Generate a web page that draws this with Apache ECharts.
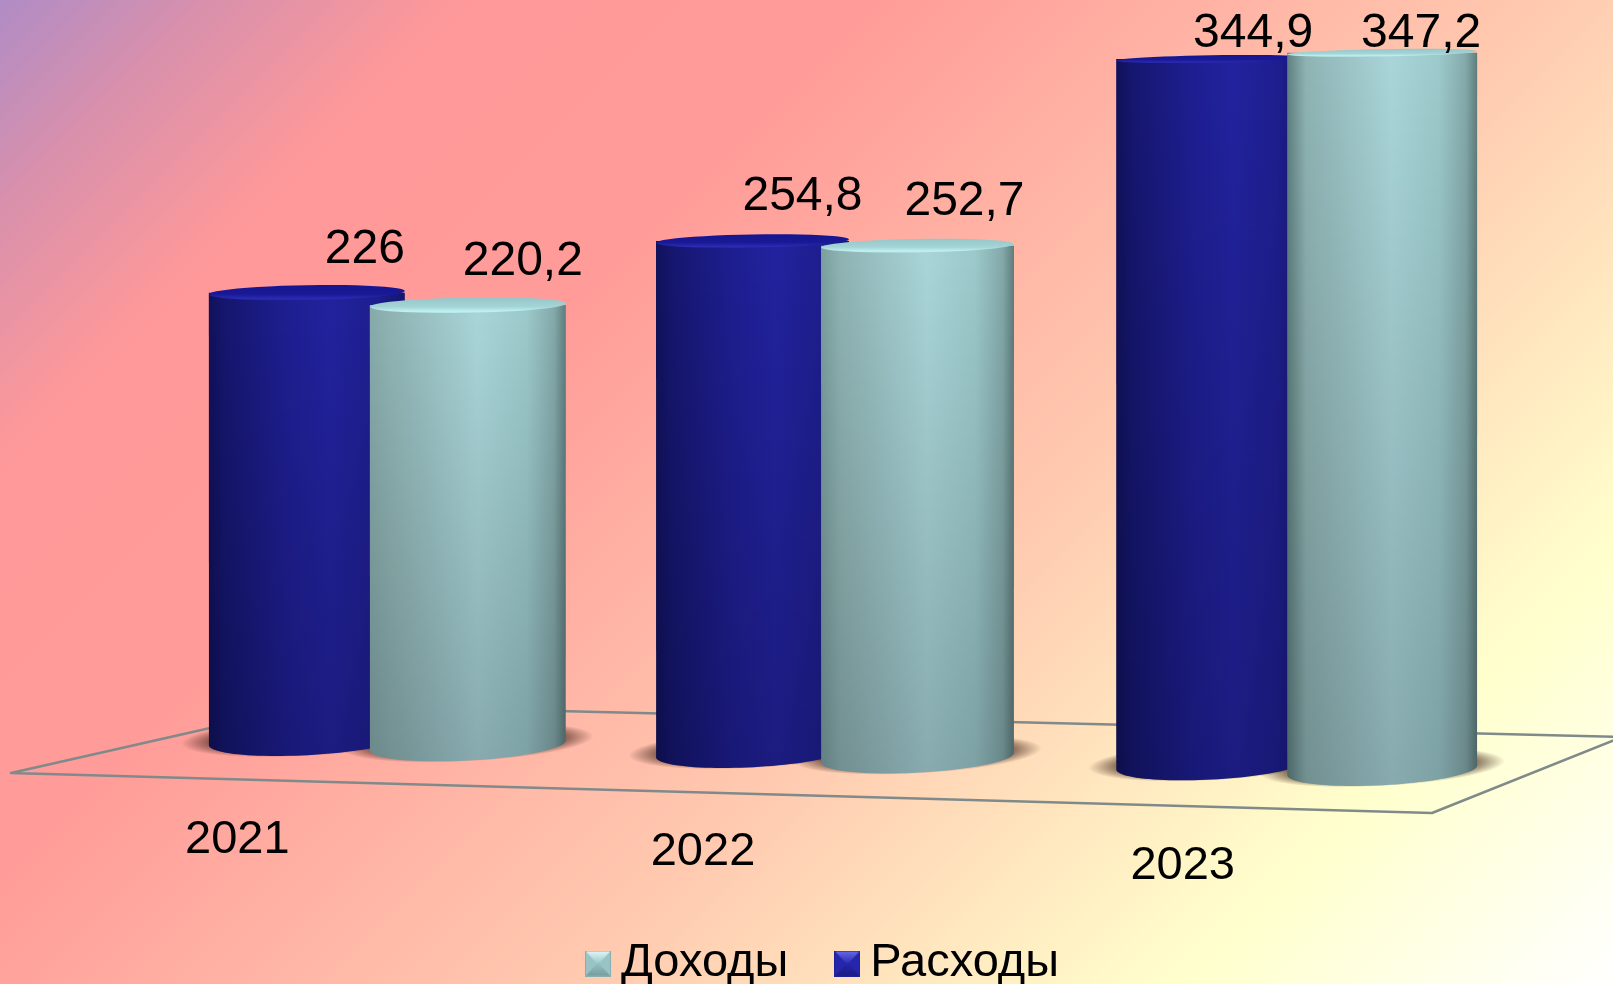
<!DOCTYPE html>
<html>
<head>
<meta charset="utf-8">
<title>Доходы и расходы</title>
<style>
    html, body { margin: 0; padding: 0; background: #fff; }
    #chart { width: 1613px; height: 984px; }
</style>
<script src="https://cdn.jsdelivr.net/npm/echarts@6/dist/echarts.min.js"></script>
</head>
<body>
<div id="chart"></div>
<script>
// данные
const years = ['2021', '2022', '2023'];
const income = [220.2, 252.7, 347.2];
const expense = [226, 254.8, 344.9];

// перспектива: правые столбцы ближе к зрителю
const heightScale = [0.995, 1.008, 1.028];
const catNudge = [0, -7, 0];
const halfGap = [80.5, 82.5, 85.5];
const radius = [98, 96.5, 95];
const floorSlope = 0.027;
const tilt = -3 * Math.PI / 180;
const bottomRy = 15;
const labelFont = '"Liberation Sans", Arial, sans-serif';
const labelSize = 48;
const yearSize = 47;
// сдвиг подписей значений от центра верхней крышки
const expenseLabelShift = [[58, -43], [50, -44], [42, -25]];
const incomeLabelShift = [[55, -43], [47, -44], [39, -19]];
// подписи годов относительно центра группы
const yearLabelX = [-150, -132, -114];
const yearLabelY = [96.5, 109, 123];

const chart = echarts.init(document.getElementById('chart'));

function ellipsePoint(cx, cy, rx, ry, a, t) {
    return [
        cx + rx * Math.cos(t) * Math.cos(a) - ry * Math.sin(t) * Math.sin(a),
        cy + rx * Math.cos(t) * Math.sin(a) + ry * Math.sin(t) * Math.cos(a)
    ];
}

function arc(cx, cy, rx, ry, a, from, to) {
    const pts = [];
    for (let k = 0; k <= 48; k++) {
        pts.push(ellipsePoint(cx, cy, rx, ry, a, from + (to - from) * k / 48));
    }
    return pts;
}

// side: -1 расходы, 1 доходы
function basePoint(api, i, side) {
    const c = api.coord([i, 0]);
    const cx = c[0] + catNudge[i] + side * halfGap[i];
    const cy = c[1] + floorSlope * (cx - 468) + (side < 0 ? 1 : 2);
    return [cx, cy];
}

function hGradient(stops) {
    return {
        type: 'linear', x: 0, y: 0, x2: 1, y2: 0,
        colorStops: stops.map(s => ({offset: s[0], color: s[1]}))
    };
}

function vGradient(stops) {
    return {
        type: 'linear', x: 0, y: 0, x2: 0, y2: 1,
        colorStops: stops.map(s => ({offset: s[0], color: s[1]}))
    };
}

const blueBody = () => hGradient([[0, '#10115a'], [0.08, '#15166e'], [0.4, '#1e1e92'], [0.62, '#22229e'], [0.85, '#1e1e90'], [1, '#15156e']]);
const tealLeftEdge = ['#86aaaa', '#7a9e9e', '#5f8080'];
const tealBody = i => hGradient([[0, tealLeftEdge[i]], [0.1, '#8fb3b3'], [0.55, '#a9d5d9'], [0.8, '#9cc9cb'], [0.94, '#84a9aa'], [1, '#5f7d7d']]);
const blueCap = vGradient([[0, '#15158e'], [0.6, '#191996'], [0.9, '#2b2bb4'], [1, '#2222a2']]);
const tealCap = vGradient([[0, '#96c6c8'], [0.6, '#a4d4d6'], [0.9, '#c0f2f2'], [1, '#b4e6e6']]);

function renderCylinder(side, labelShift, bodyFill, capFill, seriesScale) {
    return function (params, api) {
        const i = api.value(0);
        const v = api.value(1);
        const base = basePoint(api, i, side);
        const cx = base[0];
        const cy = base[1];
        const rx = radius[i];
        const h = api.size([0, v])[1] * heightScale[i] * seriesScale;
        const topY = cy - h;
        const topRy = 2.8 + 0.016 * topY;
        const topTilt = -1 * Math.PI / 180;

        const bottom = arc(cx, cy, rx, bottomRy, tilt, Math.PI, 0);
        const points = [[cx - rx, topY]].concat(bottom, [[cx + rx, topY]]);
        const cap = arc(cx, topY, rx, topRy, topTilt, 0, Math.PI * 2);

        return {
            type: 'group',
            children: [
                {type: 'polygon', silent: true, shape: {points: points}, style: {fill: bodyFill(i)}},
                {
                    type: 'polygon', silent: true, shape: {points: points},
                    style: {fill: vGradient([[0, 'rgba(0,0,0,0)'], [1, 'rgba(0,0,10,0.2)']])}
                },
                {type: 'polygon', silent: true, shape: {points: cap}, style: {fill: capFill}},
                {
                    type: 'text',
                    silent: true,
                    x: cx + labelShift[i][0],
                    y: topY + labelShift[i][1],
                    style: {
                        text: String(v).replace('.', ','),
                        fill: '#000',
                        fontSize: labelSize,
                        fontFamily: labelFont,
                        align: 'center',
                        verticalAlign: 'middle'
                    }
                }
            ]
        };
    };
}

// мягкая тень на полу под столбцом
function renderShadow(params, api) {
    const i = api.value(0);
    const side = api.value(1);
    const base = basePoint(api, i, side);
    const r = radius[i] + 28;
    return {
        type: 'circle',
        silent: true,
        x: base[0],
        y: base[1] - 3,
        rotation: -tilt,
        scaleY: (bottomRy + 4) / r,
        shape: {cx: 0, cy: 0, r: r},
        style: {
            fill: {
                type: 'radial', x: 0.5, y: 0.5, r: 0.5,
                colorStops: [
                    {offset: 0, color: 'rgba(70,40,30,0.65)'},
                    {offset: 0.76, color: 'rgba(70,40,30,0.65)'},
                    {offset: 1, color: 'rgba(70,40,30,0)'}
                ]
            }
        }
    };
}

function renderYear(params, api) {
    const i = api.value(0);
    const c = api.coord([i, 0]);
    return {
        type: 'text',
        silent: true,
        x: c[0] + catNudge[i] + yearLabelX[i],
        y: c[1] + yearLabelY[i],
        style: {
            text: years[i],
            fill: '#000',
            fontSize: yearSize,
            fontFamily: labelFont,
            align: 'center',
            verticalAlign: 'middle'
        }
    };
}

// значок легенды: квадрат с фаской
function bevelIcon(side, light, dark, edge) {
    const cv = document.createElement('canvas');
    cv.width = 26;
    cv.height = 26;
    const ctx = cv.getContext('2d');
    const tri = (pts, fill) => {
        ctx.fillStyle = fill;
        ctx.beginPath();
        ctx.moveTo(pts[0][0], pts[0][1]);
        pts.slice(1).forEach(p => ctx.lineTo(p[0], p[1]));
        ctx.closePath();
        ctx.fill();
    };
    ctx.fillStyle = side;
    ctx.fillRect(0, 0, 26, 26);
    const up = ctx.createLinearGradient(0, 0, 0, 14);
    up.addColorStop(0, light);
    up.addColorStop(1, side);
    tri([[0, 0], [26, 0], [13, 14]], up);
    const down = ctx.createLinearGradient(0, 12, 0, 26);
    down.addColorStop(0, side);
    down.addColorStop(1, dark);
    tri([[0, 26], [26, 26], [13, 12]], down);
    ctx.strokeStyle = edge;
    ctx.lineWidth = 1;
    ctx.strokeRect(0.5, 0.5, 25, 25);
    return 'image://' + cv.toDataURL();
}

chart.setOption({
    animation: false,
    graphic: {
        elements: [
            {
                type: 'rect', z: -10, silent: true,
                shape: {x: 0, y: 0, width: 1613, height: 984},
                style: {
                    fill: {
                        type: 'linear', global: true, x: 0, y: 0, x2: 1298.5, y2: 1298.5,
                        colorStops: [
                            {offset: 0, color: '#b08cc6'},
                            {offset: 0.08, color: '#d890ac'},
                            {offset: 0.18, color: '#ff9999'},
                            {offset: 0.34, color: '#ff9c99'},
                            {offset: 0.6, color: '#ffcab0'},
                            {offset: 0.83, color: '#ffffcc'},
                            {offset: 1, color: '#ffffff'}
                        ]
                    }
                }
            },
            {
                type: 'polygon', z: -9, silent: true,
                shape: {points: [[11, 773], [1432, 813], [1622, 737], [312, 705]]},
                style: {fill: 'none', stroke: '#808a8a', lineWidth: 2.5, lineJoin: 'round'}
            }
        ]
    },
    legend: {
        left: 585,
        top: 940,
        itemWidth: 26,
        itemHeight: 26,
        itemGap: 46,
        padding: 0,
        selectedMode: false,
        textStyle: {
            color: '#000',
            fontSize: yearSize,
            fontFamily: labelFont,
            padding: [0, 0, 0, 5]
        },
        data: [
            {name: 'Доходы', icon: bevelIcon('#98c4c6', '#e2f8f8', '#759a9c', '#88aeb0')},
            {name: 'Расходы', icon: bevelIcon('#2626ac', '#6a6aec', '#1a1a84', '#20209a')}
        ]
    },
    grid: {left: 160, top: 43.5, width: 1364, height: 700},
    xAxis: {type: 'category', data: years, show: false},
    yAxis: {type: 'value', min: 0, max: 350, show: false},
    series: [
        {
            name: 'тень',
            type: 'custom',
            z: 2,
            silent: true,
            renderItem: renderShadow,
            encode: {x: 0},
            data: years.flatMap((y, i) => [[i, -1], [i, 1]])
        },
        {
            name: 'Расходы',
            type: 'custom',
            z: 3,
            itemStyle: {color: '#20209a'},
            renderItem: renderCylinder(-1, expenseLabelShift, blueBody, blueCap, 0.995),
            encode: {x: 0, y: 1},
            data: expense.map((v, i) => [i, v])
        },
        {
            name: 'Доходы',
            type: 'custom',
            z: 4,
            itemStyle: {color: '#a8d4d6'},
            renderItem: renderCylinder(1, incomeLabelShift, tealBody, tealCap, 1.005),
            encode: {x: 0, y: 1},
            data: income.map((v, i) => [i, v])
        },
        {
            name: 'годы',
            type: 'custom',
            z: 5,
            silent: true,
            renderItem: renderYear,
            encode: {x: 0},
            data: years.map((y, i) => [i])
        }
    ]
});
</script>
</body>
</html>
